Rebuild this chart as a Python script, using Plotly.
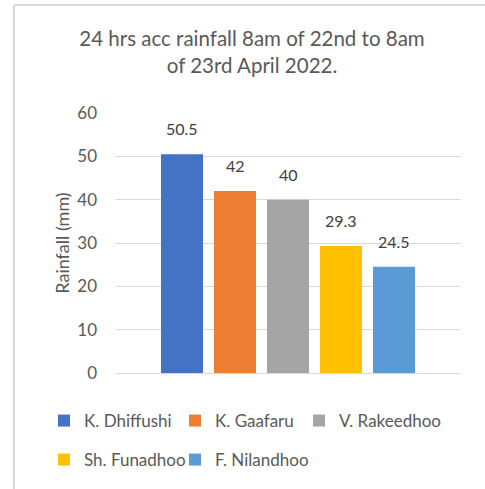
import plotly.graph_objects as go

stations = ["K. Dhiffushi", "K. Gaafaru", "V. Rakeedhoo", "Sh. Funadhoo", "F. Nilandhoo"]
rainfall = [50.5, 42, 40, 29.3, 24.5]
labels = ["50.5", "42", "40", "29.3", "24.5"]
colors = ["#4472C4", "#ED7D31", "#A5A5A5", "#FFC000", "#5B9BD5"]
yticks = [0, 10, 20, 30, 40, 50, 60]

FONT = "Lato, 'Noto Sans', sans-serif"

L, R, T, B = 115, 24, 113, 116
W, H = 485, 489
pw, ph = W - L - R, H - T - B
def px(x):
    return (x - L) / pw
def py(y):
    return (H - B - y) / ph

# legend layout: one legend per entry, laid out in 2 rows (3 + 2) like the original
legend_ids = ["legend", "legend2", "legend3", "legend4", "legend5"]
legend_pos = [(44, 421), (175, 421), (299, 421), (44, 460), (175, 460)]

fig = go.Figure()
for name, val, col, lg in zip(stations, rainfall, colors, legend_ids):
    fig.add_trace(go.Bar(x=[name], y=[val], name=name, legend=lg,
                         marker=dict(color=col, line=dict(width=0)), hoverinfo="x+y"))

for name, val, lab in zip(stations, rainfall, labels):
    fig.add_annotation(x=name, y=val, text=lab, showarrow=False, yanchor="bottom", yshift=14,
                       font=dict(family=FONT, size=16, color="#404040"))

# chart frame (left and top edges visible)
fig.add_shape(type="line", xref="paper", yref="paper", x0=px(14), x1=px(14), y0=py(5), y1=py(520),
              line=dict(color="#d9d9d9", width=2))
fig.add_shape(type="line", xref="paper", yref="paper", x0=px(14), x1=px(520), y0=py(5), y1=py(5),
              line=dict(color="#d9d9d9", width=2))

legend_common = dict(orientation="h", xref="paper", yref="paper", xanchor="left",
                     yanchor="middle", font=dict(family=FONT, size=17, color="#595959"),
                     itemwidth=30, bgcolor="rgba(0,0,0,0)")

legends = {lid: dict(x=px(lx), y=py(ly), **legend_common)
           for lid, (lx, ly) in zip(legend_ids, legend_pos)}

fig.update_layout(
    width=W, height=H,
    margin=dict(l=L, r=R, t=T, b=B, autoexpand=False),
    paper_bgcolor="white", plot_bgcolor="white",
    barmode="overlay", bargap=0.2075,
    title=dict(text="24 hrs acc rainfall 8am of 22nd to 8am<br>of 23rd April 2022.",
               xref="container", x=252 / W, xanchor="center",
               yref="container", y=1 - 46 / H, yanchor="middle",
               font=dict(family=FONT, size=20.5, color="#595959")),
    xaxis=dict(showticklabels=False, showgrid=False, zeroline=False, showline=False,
               range=[-1.264, 5.264], fixedrange=True),
    yaxis=dict(range=[0, 60], tickvals=yticks, showgrid=True, gridcolor="#d9d9d9", gridwidth=1,
               zeroline=True, zerolinecolor="#d9d9d9", zerolinewidth=1, showline=False,
               ticks="", ticklabelstandoff=17, automargin=False, fixedrange=True,
               tickfont=dict(family=FONT, size=17, color="#595959"),
               title=dict(text="Rainfall (mm)", standoff=2,
                          font=dict(family=FONT, size=18, color="#595959"))),
    showlegend=True,
    **legends,
)
fig.write_html("out.html", config={"displayModeBar": False},
               post_script="document.body.style.margin='0';document.body.style.overflow='hidden';")
